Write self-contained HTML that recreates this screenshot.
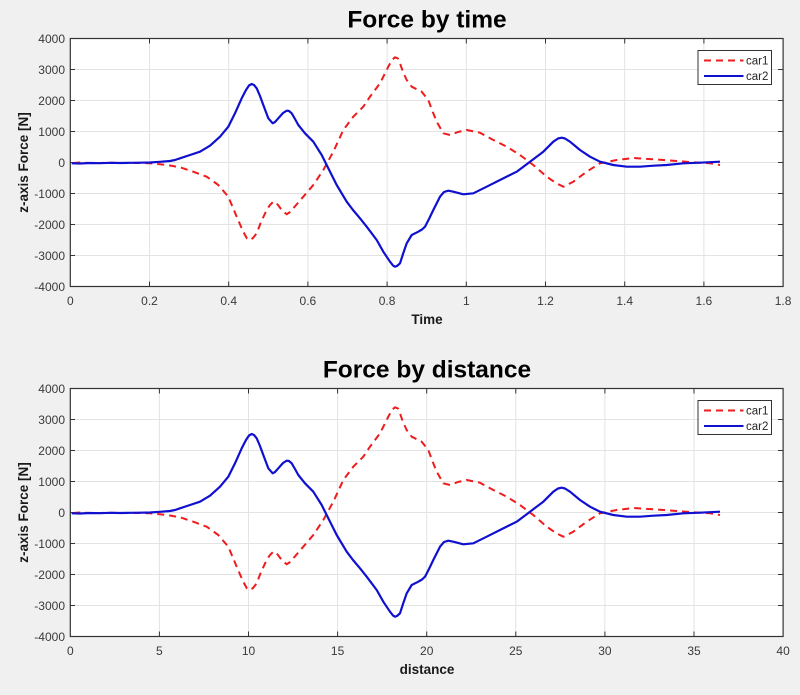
<!DOCTYPE html>
<html>
<head>
<meta charset="utf-8">
<style>
html,body{margin:0;padding:0;background:#f0f0f0;}
svg{display:block;}
text{font-family:"Liberation Sans",Arial,sans-serif;}
.tk{font-size:12px;fill:#3a3a3a;}
.ttl{font-size:24.5px;font-weight:bold;fill:#000;}
.lbl{font-size:13.5px;font-weight:bold;fill:#1a1a1a;}
.lg{font-size:11.5px;fill:#262626;}
</style>
</head>
<body>
<svg width="800" height="695" viewBox="0 0 800 695" xmlns="http://www.w3.org/2000/svg">
<rect x="0" y="0" width="800" height="695" fill="#f0f0f0"/>
<defs>
  <g id="frame">
    <rect x="70.3" y="38.5" width="712.8" height="248" fill="#ffffff"/>
    <g stroke="#e3e3e3" stroke-width="1">
      <line x1="70.3" y1="69.5" x2="783.1" y2="69.5"/>
      <line x1="70.3" y1="100.5" x2="783.1" y2="100.5"/>
      <line x1="70.3" y1="131.5" x2="783.1" y2="131.5"/>
      <line x1="70.3" y1="162.5" x2="783.1" y2="162.5"/>
      <line x1="70.3" y1="193.5" x2="783.1" y2="193.5"/>
      <line x1="70.3" y1="224.5" x2="783.1" y2="224.5"/>
      <line x1="70.3" y1="255.5" x2="783.1" y2="255.5"/>
    </g>
    <g stroke="#333" stroke-width="1">
      <line x1="778" y1="69.5" x2="783.1" y2="69.5"/>
      <line x1="778" y1="100.5" x2="783.1" y2="100.5"/>
      <line x1="778" y1="131.5" x2="783.1" y2="131.5"/>
      <line x1="778" y1="162.5" x2="783.1" y2="162.5"/>
      <line x1="778" y1="193.5" x2="783.1" y2="193.5"/>
      <line x1="778" y1="224.5" x2="783.1" y2="224.5"/>
      <line x1="778" y1="255.5" x2="783.1" y2="255.5"/>
      <line x1="70.3" y1="69.5" x2="75" y2="69.5"/>
      <line x1="70.3" y1="100.5" x2="75" y2="100.5"/>
      <line x1="70.3" y1="131.5" x2="75" y2="131.5"/>
      <line x1="70.3" y1="162.5" x2="75" y2="162.5"/>
      <line x1="70.3" y1="193.5" x2="75" y2="193.5"/>
      <line x1="70.3" y1="224.5" x2="75" y2="224.5"/>
      <line x1="70.3" y1="255.5" x2="75" y2="255.5"/>
    </g>
    <g class="tk" text-anchor="end">
      <text x="65" y="43">4000</text>
      <text x="65" y="74">3000</text>
      <text x="65" y="105">2000</text>
      <text x="65" y="136">1000</text>
      <text x="65" y="167">0</text>
      <text x="65" y="198">-1000</text>
      <text x="65" y="229">-2000</text>
      <text x="65" y="260">-3000</text>
      <text x="65" y="291">-4000</text>
    </g>
    <text class="lbl" transform="translate(28,162.5) rotate(-90)" text-anchor="middle">z-axis Force [N]</text>
  </g>
  <g id="curves">
    <polyline fill="none" stroke="#ee1c1c" stroke-width="2" stroke-dasharray="7 5" stroke-linejoin="round" points="73.3,163 80,162.5 90,163 100,163 110,162.8 120,163 130,163 140,163 150,163.3 160,164.2 166.7,165 180,167.3 193.3,171.7 206.7,176.7 218.3,185 228.3,196.7 236.7,216.7 242,229 245,235 247,238.5 250,240 253,238 256.7,233.3 261,222 266.7,210 270,205 273,202 275,201.7 278,205 281.7,210 286.7,214.3 290,212 293.3,208.3 303.3,196.7 313.3,185 323.3,170 333.3,151.7 343.3,130 353.3,116.7 363.3,106.7 370,96.7 380,83.3 388.3,66.7 392,60 395,57.3 398,58.5 400,63.3 403,72 406.7,80 411.7,86.7 421.7,91.7 428.3,100 432,110 436.7,121.7 443.3,133.3 450,135 458,132 466.7,130 480,132.7 493.3,140 506.7,146.7 520,155 533.3,165 546.7,176.7 556,183 563.3,186.7 568,184.5 573.3,181.7 586.7,171.7 600,163.3 616.7,160 633.3,158 653.3,159.3 673.3,160.7 693.3,162.3 710,163.3 720,165"/>
    <polyline fill="none" stroke="#1010d0" stroke-width="2.2" stroke-linejoin="round" points="71.7,163.3 80,163.5 90,163 100,163.2 110,162.8 120,163 130,162.8 140,162.7 150,162.5 160,161.8 170,161 175,160 180,158.3 190,155 200,151.7 210,145.7 220,136.7 228.3,126.7 235,113.3 241.7,98.3 246,90 249,85.5 251.7,84 254,85 256.7,88.3 260,96 263.3,105 268.3,118.3 272.7,123.3 275,122 278.3,118.3 283,113 286.7,110.7 289,111 291.7,113.3 295,119 298.3,125 305,133.3 313.3,141.7 321.7,155 328.3,168.3 336.7,185 346.7,201.7 353,210 360,218.3 366.7,226.7 376.7,240 383.3,251.7 390,261.7 393,265.5 395,266.7 397,266 400,263.3 403,254 406.7,243.3 411.7,235 418.3,231.7 422,229.5 425,226.7 429,219 433.3,210 440,196.7 444,192 448.3,190.7 453.3,191.7 463.3,194.3 473.3,193.3 486.7,186.7 500,180 516.7,171.7 530,161.7 543.3,151.7 553.3,141.7 558,138.5 561.7,137.7 565,138.5 570,141.7 580,150 590,156.7 600,161.7 613.3,165 626.7,166.7 640,166.7 653.3,165.7 666.7,165 683.3,163.3 700,162.7 720,161.7"/>
  </g>
  <g id="legend">
    <rect x="698" y="50.5" width="73.5" height="34" fill="#ffffff" stroke="#333" stroke-width="1"/>
    <line x1="704" y1="60.5" x2="743.5" y2="60.5" stroke="#ee1c1c" stroke-width="2" stroke-dasharray="7 5"/>
    <line x1="704" y1="76" x2="743.5" y2="76" stroke="#1010d0" stroke-width="2"/>
    <text class="lg" x="746" y="64.5">car1</text>
    <text class="lg" x="746" y="80">car2</text>
  </g>
</defs>

<!-- Top plot -->
<use href="#frame"/>
<g stroke="#e3e3e3" stroke-width="1">
  <line x1="149.5" y1="38.5" x2="149.5" y2="286.5"/>
  <line x1="228.7" y1="38.5" x2="228.7" y2="286.5"/>
  <line x1="307.9" y1="38.5" x2="307.9" y2="286.5"/>
  <line x1="387.1" y1="38.5" x2="387.1" y2="286.5"/>
  <line x1="466.3" y1="38.5" x2="466.3" y2="286.5"/>
  <line x1="545.5" y1="38.5" x2="545.5" y2="286.5"/>
  <line x1="624.7" y1="38.5" x2="624.7" y2="286.5"/>
  <line x1="703.9" y1="38.5" x2="703.9" y2="286.5"/>
</g>
<g stroke="#333" stroke-width="1">
  <line x1="149.5" y1="38.5" x2="149.5" y2="43.5"/>
  <line x1="228.7" y1="38.5" x2="228.7" y2="43.5"/>
  <line x1="307.9" y1="38.5" x2="307.9" y2="43.5"/>
  <line x1="387.1" y1="38.5" x2="387.1" y2="43.5"/>
  <line x1="466.3" y1="38.5" x2="466.3" y2="43.5"/>
  <line x1="545.5" y1="38.5" x2="545.5" y2="43.5"/>
  <line x1="624.7" y1="38.5" x2="624.7" y2="43.5"/>
  <line x1="703.9" y1="38.5" x2="703.9" y2="43.5"/>
  <line x1="149.5" y1="281.5" x2="149.5" y2="286.5"/>
  <line x1="228.7" y1="281.5" x2="228.7" y2="286.5"/>
  <line x1="307.9" y1="281.5" x2="307.9" y2="286.5"/>
  <line x1="387.1" y1="281.5" x2="387.1" y2="286.5"/>
  <line x1="466.3" y1="281.5" x2="466.3" y2="286.5"/>
  <line x1="545.5" y1="281.5" x2="545.5" y2="286.5"/>
  <line x1="624.7" y1="281.5" x2="624.7" y2="286.5"/>
  <line x1="703.9" y1="281.5" x2="703.9" y2="286.5"/>
</g>
<use href="#curves"/>
<rect x="70.3" y="38.5" width="712.8" height="248" fill="none" stroke="#333" stroke-width="1.2"/>
<use href="#legend"/>
<g class="tk" text-anchor="middle">
  <text x="70.3" y="305">0</text>
  <text x="149.5" y="305">0.2</text>
  <text x="228.7" y="305">0.4</text>
  <text x="307.9" y="305">0.6</text>
  <text x="387.1" y="305">0.8</text>
  <text x="466.3" y="305">1</text>
  <text x="545.5" y="305">1.2</text>
  <text x="624.7" y="305">1.4</text>
  <text x="703.9" y="305">1.6</text>
  <text x="783.1" y="305">1.8</text>
</g>
<text class="lbl" x="427" y="324" text-anchor="middle">Time</text>
<text class="ttl" x="427" y="27.5" text-anchor="middle">Force by time</text>

<!-- Bottom plot -->
<g transform="translate(0,350)">
  <use href="#frame"/>
  <g stroke="#e3e3e3" stroke-width="1">
    <line x1="159.4" y1="38.5" x2="159.4" y2="286.5"/>
    <line x1="248.5" y1="38.5" x2="248.5" y2="286.5"/>
    <line x1="337.6" y1="38.5" x2="337.6" y2="286.5"/>
    <line x1="426.7" y1="38.5" x2="426.7" y2="286.5"/>
    <line x1="515.8" y1="38.5" x2="515.8" y2="286.5"/>
    <line x1="604.9" y1="38.5" x2="604.9" y2="286.5"/>
    <line x1="694" y1="38.5" x2="694" y2="286.5"/>
  </g>
  <g stroke="#333" stroke-width="1">
    <line x1="159.4" y1="38.5" x2="159.4" y2="43.5"/>
    <line x1="248.5" y1="38.5" x2="248.5" y2="43.5"/>
    <line x1="337.6" y1="38.5" x2="337.6" y2="43.5"/>
    <line x1="426.7" y1="38.5" x2="426.7" y2="43.5"/>
    <line x1="515.8" y1="38.5" x2="515.8" y2="43.5"/>
    <line x1="604.9" y1="38.5" x2="604.9" y2="43.5"/>
    <line x1="694" y1="38.5" x2="694" y2="43.5"/>
    <line x1="159.4" y1="281.5" x2="159.4" y2="286.5"/>
    <line x1="248.5" y1="281.5" x2="248.5" y2="286.5"/>
    <line x1="337.6" y1="281.5" x2="337.6" y2="286.5"/>
    <line x1="426.7" y1="281.5" x2="426.7" y2="286.5"/>
    <line x1="515.8" y1="281.5" x2="515.8" y2="286.5"/>
    <line x1="604.9" y1="281.5" x2="604.9" y2="286.5"/>
    <line x1="694" y1="281.5" x2="694" y2="286.5"/>
  </g>
  <use href="#curves"/>
  <rect x="70.3" y="38.5" width="712.8" height="248" fill="none" stroke="#333" stroke-width="1.2"/>
  <use href="#legend"/>
  <g class="tk" text-anchor="middle">
    <text x="70.3" y="305">0</text>
    <text x="159.4" y="305">5</text>
    <text x="248.5" y="305">10</text>
    <text x="337.6" y="305">15</text>
    <text x="426.7" y="305">20</text>
    <text x="515.8" y="305">25</text>
    <text x="604.9" y="305">30</text>
    <text x="694" y="305">35</text>
    <text x="783.1" y="305">40</text>
  </g>
  <text class="lbl" x="427" y="324" text-anchor="middle">distance</text>
  <text class="ttl" x="427" y="27.5" text-anchor="middle">Force by distance</text>
</g>
</svg>
</body>
</html>
